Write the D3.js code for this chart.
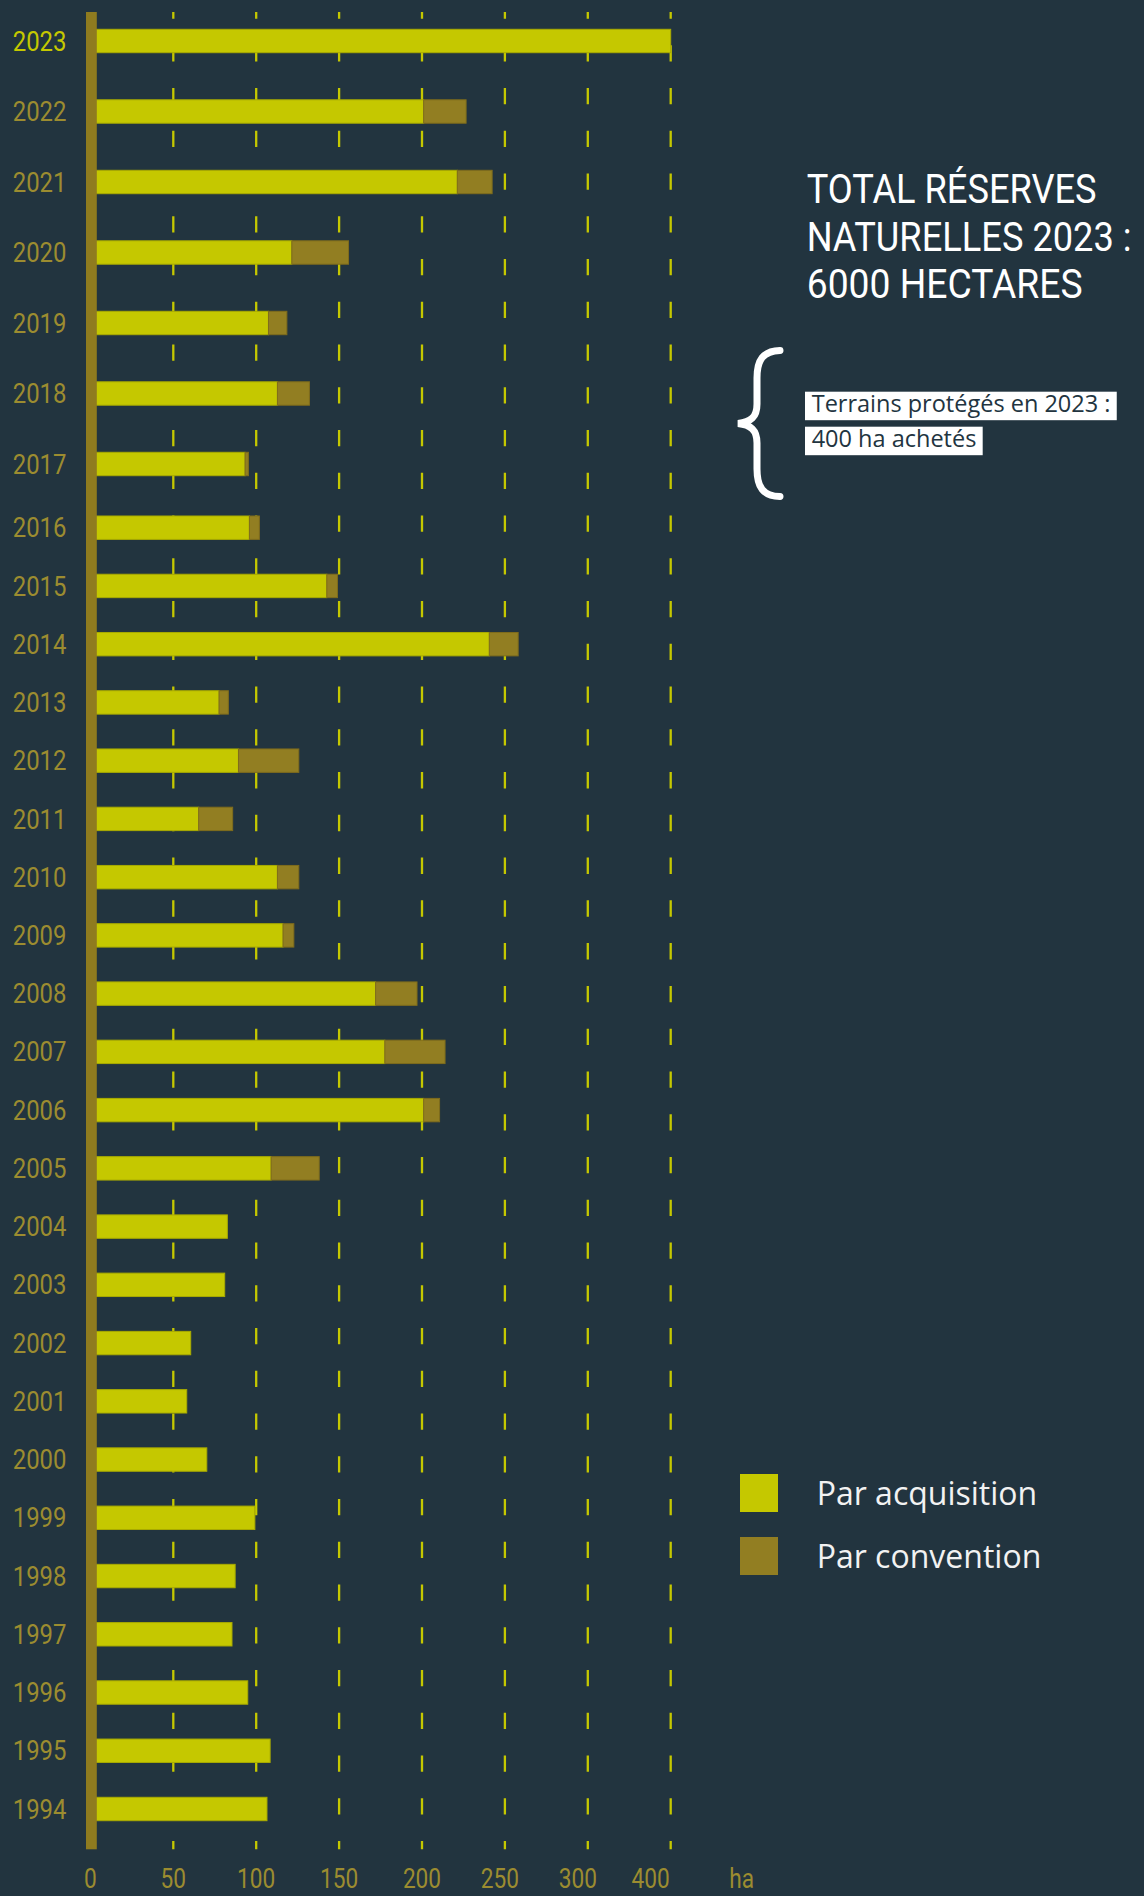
<!DOCTYPE html>
<html><head><meta charset="utf-8">
<script src="https://cdn.jsdelivr.net/npm/d3@7/dist/d3.min.js"></script>
<style>html,body{margin:0;padding:0;background:#22343f;} svg{display:block}</style>
</head><body>
<script>
// ---- data ----
const years = [1994,1995,1996,1997,1998,1999,2000,2001,2002,2003,2004,2005,2006,2007,2008,
               2009,2010,2011,2012,2013,2014,2015,2016,2017,2018,2019,2020,2021,2022,2023];
const acquisition = [106.5,108.4,94.9,85.4,87.3,99.2,70.2,58.1,60.5,81.0,82.6,109.0,201.0,177.6,172.0,
                     116.2,112.8,65.3,89.3,77.6,240.6,142.6,95.9,93.3,112.8,107.4,121.5,221.3,201.0,400.0];
const convention  = [0,0,0,0,0,0,0,0,0,0,0,29.0,9.6,36.3,25.0,
                     6.5,12.9,20.5,36.4,5.6,17.4,6.4,6.0,2.0,19.3,11.1,34.2,21.0,25.6,0];
const tickValues = [0,50,100,150,200,250,300,400];
const tickLabels = ["0","50","100","150","200","250","300","400"];
const unitLabel = "ha";
const seriesNames = ["Par acquisition","Par convention"];
const titleLines = ["TOTAL RÉSERVES","NATURELLES 2023 :","6000 HECTARES"];
const noteLines = ["Terrains protégés en 2023 :","400 ha achetés"];

// ---- style ----
const W = 1144, H = 1896;
const BG = "#22343f", ACQ = "#c5c800", CONV = "#927e22", AXIS = "#8f7b1f", LAB = "#9c8c30";

const svg = d3.select("body").append("svg").attr("width", W).attr("height", H);
svg.append("rect").attr("width", W).attr("height", H).attr("fill", BG);

// piecewise scales (the original graphic compresses 300-400)
const x = d3.scaleLinear().domain([0, 300, 400]).range([90.4, 587.8, 670.7]);
const y = d3.scaleLinear().domain([1994, 2016, 2017, 2023]).range([1809, 527.7, 464, 41]);
const barH = 23.4;
const plotTop = 12, plotBottom = 1849.3;

// gridlines
svg.append("g").selectAll("line").data(tickValues.filter(v => v > 0)).join("line")
  .attr("x1", d => x(d)).attr("x2", d => x(d))
  .attr("y1", plotTop).attr("y2", plotBottom)
  .attr("stroke", ACQ).attr("stroke-width", 2.3)
  .attr("stroke-dasharray", "16.3,26.46").attr("stroke-dashoffset", 9.6);

const rows = years.map((yr, i) => ({yr, a: acquisition[i], c: convention[i]}));

// bars
const gb = svg.append("g");
gb.selectAll("rect.acq").data(rows).join("rect").attr("class", "acq")
  .attr("x", x(0)).attr("y", d => y(d.yr) - barH/2)
  .attr("width", d => x(d.a) - x(0)).attr("height", barH)
  .attr("fill", ACQ).attr("stroke", "#a9ab00").attr("stroke-width", 1);
gb.selectAll("rect.conv").data(rows.filter(d => d.c > 0)).join("rect").attr("class", "conv")
  .attr("x", d => x(d.a)).attr("y", d => y(d.yr) - barH/2)
  .attr("width", d => x(d.a + d.c) - x(d.a)).attr("height", barH)
  .attr("fill", CONV).attr("stroke", "#7f6c1c").attr("stroke-width", 1);

// axis bar
svg.append("rect").attr("x", 86).attr("y", plotTop).attr("width", 10.8).attr("height", plotBottom - plotTop).attr("fill", AXIS);

// year labels
svg.append("g").selectAll("text").data(rows).join("text")
  .attr("transform", d => `translate(66.5,${y(d.yr) + 9.6}) scale(0.84,1)`)
  .attr("text-anchor", "end")
  .attr("font-family", "Roboto, sans-serif").attr("font-weight", 400).attr("font-size", 28.5)
  .attr("fill", d => d.yr === 2023 ? ACQ : LAB)
  .text(d => d.yr);

// x tick labels
svg.append("g").selectAll("text").data(tickValues).join("text")
  .attr("transform", (d, i) => `translate(${x(d) - (d >= 250 ? (d - 200) * 0.1 : 0)},1888) scale(0.84,1)`)
  .attr("text-anchor", "middle")
  .attr("font-family", "Roboto, sans-serif").attr("font-weight", 400).attr("font-size", 27)
  .attr("fill", LAB)
  .text((d, i) => tickLabels[i]);
svg.append("text")
  .attr("transform", `translate(${x(400) + 71},1888) scale(0.84,1)`)
  .attr("text-anchor", "middle")
  .attr("font-family", "Roboto, sans-serif").attr("font-weight", 400).attr("font-size", 27)
  .attr("fill", LAB).text(unitLabel);

// title (condensed by a horizontal scale fitted to the reference widths)
const titleW = [290, 325, 276];
const titleY = [203.3, 250.5, 297.5];
const gt = svg.append("g");
titleLines.forEach((t, i) => {
  const txt = gt.append("text").attr("x", 0).attr("y", 0)
    .attr("font-family", "Roboto, sans-serif").attr("font-weight", 400).attr("font-size", 40)
    .attr("fill", "#ffffff").text(t);
  const s = Math.min(1, titleW[i] / txt.node().getComputedTextLength());
  txt.attr("transform", `translate(806.7,${titleY[i]}) scale(${s},1)`);
});

// brace
svg.append("path")
  .attr("d", "M780,350.5 C763,351 757,360 757,378 L757,404 C757,417 751,422 738,423.5 C751,425 757,430 757,443 L757,469 C757,487 763,496 780,496.5")
  .attr("fill", "none").attr("stroke", "#ffffff").attr("stroke-width", 7).attr("stroke-linecap", "round");

// note boxes
const noteY = [411.7, 446.7];
const gn = svg.append("g");
noteLines.forEach((t, i) => {
  const txt = gn.append("text").attr("x", 811.7).attr("y", noteY[i])
    .attr("font-family", "'Open Sans', sans-serif").attr("font-size", 23.5)
    .attr("fill", "#22343f").text(t);
  const w = txt.node().getComputedTextLength();
  gn.insert("rect", "text").attr("x", 805).attr("y", noteY[i] - 20)
    .attr("width", w + 13).attr("height", 28.5).attr("fill", "#ffffff");
});

// legend
const legY = [1474, 1537];
const lg = svg.append("g");
lg.selectAll("rect").data(seriesNames).join("rect")
  .attr("x", 740).attr("y", (d, i) => legY[i]).attr("width", 38).attr("height", 38)
  .attr("fill", (d, i) => i === 0 ? ACQ : CONV);
lg.selectAll("text").data(seriesNames).join("text")
  .attr("x", 816.7).attr("y", (d, i) => legY[i] + 30.5)
  .attr("font-family", "'Open Sans', sans-serif").attr("font-size", 32)
  .attr("fill", "#f2f2f2").text(d => d);
</script>
</body></html>
